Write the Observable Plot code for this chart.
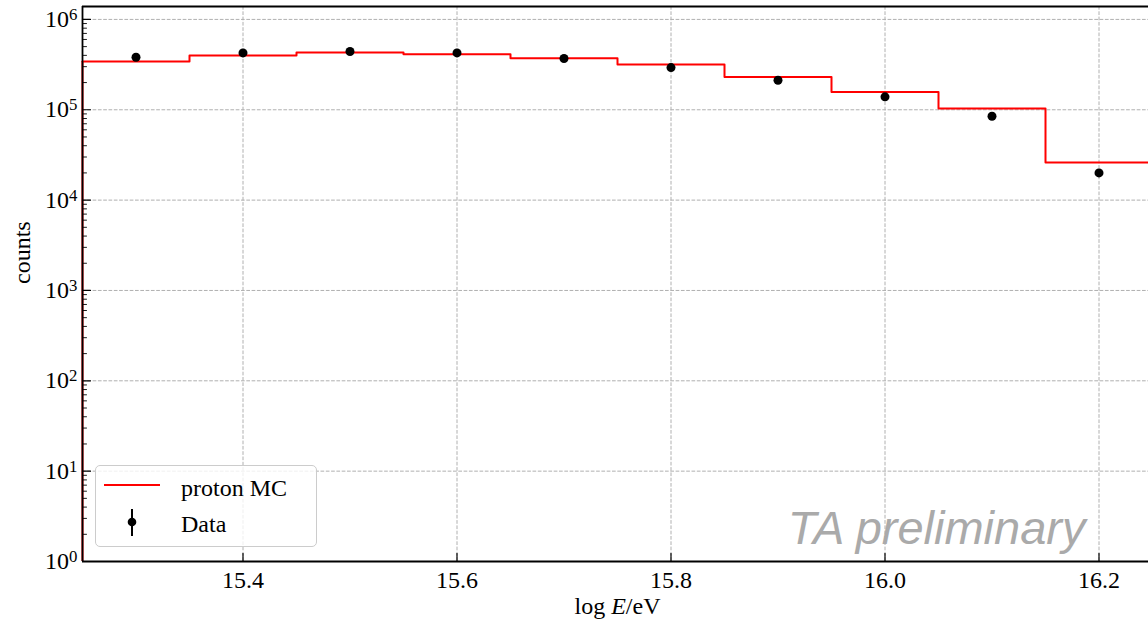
<!DOCTYPE html>
<html><head><meta charset="utf-8">
<script src="https://cdn.jsdelivr.net/npm/d3@7"></script>
<script src="https://cdn.jsdelivr.net/npm/@observablehq/plot@0.6"></script>
<style>
body{margin:0;background:#fff;overflow:hidden}
#wrap{position:relative;width:1148px;height:627px;overflow:hidden}
#wrap svg text{font-family:"Liberation Serif","DejaVu Serif",serif}
#wrap svg text.wm, #wrap svg .wm text{font-family:"Liberation Sans",Arial,sans-serif}
#legend{position:absolute;left:95px;top:465px;width:222px;height:82px;box-sizing:border-box;
 border:1px solid #cccccc;border-radius:5px;background:rgba(255,255,255,0.8)}
#legend svg{position:absolute;left:-1px;top:-1px}
</style></head><body><div id="wrap"></div>
<script>
// bins (log10 E / eV) and counts
const binCenters = [15.3, 15.4, 15.5, 15.6, 15.7, 15.8, 15.9, 16.0, 16.1, 16.2];
const mcCounts   = [342000, 398000, 430000, 412000, 372000, 316000, 231000, 157000, 103000, 26000];
const dataCounts = [381000, 426000, 441000, 426000, 369000, 293000, 212000, 139000, 84700, 20000];
const binWidth = 0.1;
const xTicks = [15.4, 15.6, 15.8, 16.0, 16.2];
const yTicks = [1, 10, 100, 1e3, 1e4, 1e5, 1e6];
const xDomain = [15.25, 16.25];
const yDomain = [1, 1.39e6];
const legendLabels = ["proton MC", "Data"];
const watermark = "TA preliminary";

const FONT = "'Liberation Serif', 'DejaVu Serif', serif";
const SANS = "'Liberation Sans', Arial, sans-serif";

// histogram step path from bin edges
const stepData = binCenters.map((c, i) => ({x: c - binWidth / 2, y: mcCounts[i]}));
stepData.push({x: binCenters[binCenters.length - 1] + binWidth / 2, y: mcCounts[mcCounts.length - 1]});
const points = binCenters.map((c, i) => ({x: c, y: dataCounts[i]}));

const minorY = [];
for (let n = 0; n < 6; n++) for (let k = 2; k <= 9; k++) minorY.push(k * Math.pow(10, n));

const tickShape = {draw(ctx, l) { ctx.moveTo(0, 0); ctx.lineTo(0, -l); }};
const grid = {stroke: "#b0b0b0", strokeOpacity: 1, strokeWidth: 1, strokeDasharray: "3.7,1.6"};

const plot = Plot.plot({
  width: 1148, height: 627,
  marginLeft: 82, marginRight: -4, marginTop: 6, marginBottom: 66,
  style: {fontFamily: FONT, fontSize: "24px", color: "black", background: "white", overflow: "visible"},
  x: {domain: xDomain},
  y: {type: "log", domain: yDomain},
  marks: [
    Plot.gridX(xTicks, grid),
    Plot.gridY(yTicks, grid),
    Plot.ruleX([stepData[0].x], {y1: yDomain[0], y2: mcCounts[0], stroke: "red", strokeWidth: 2}),
    Plot.line(stepData, {x: "x", y: "y", curve: "step-after", stroke: "red", strokeWidth: 2}),
    Plot.dot(points, {x: "x", y: "y", r: 4.5, fill: "black", stroke: "none"}),
    Plot.ruleY([yDomain[0]], {stroke: "black", strokeWidth: 1.8}),
    Plot.ruleY([yDomain[1]], {stroke: "black", strokeWidth: 1.8}),
    Plot.ruleX([xDomain[0]], {stroke: "black", strokeWidth: 1.8}),
    Plot.vector(yTicks, {y: d => d, frameAnchor: "left", rotate: 90, length: 8, anchor: "start", shape: tickShape, stroke: "black", strokeWidth: 1.2}),
    Plot.vector(minorY, {y: d => d, frameAnchor: "left", rotate: 90, length: 4, anchor: "start", shape: tickShape, stroke: "black", strokeWidth: 0.9}),
    Plot.vector(xTicks, {x: d => d, frameAnchor: "bottom", rotate: 0, length: 8, anchor: "start", shape: tickShape, stroke: "black", strokeWidth: 1.2}),
    Plot.axisX({ticks: xTicks, tickSize: 0, tickPadding: 9, tickFormat: d => d.toFixed(1), label: null, fontSize: 24, fontFamily: FONT, fontVariant: "normal"}),
    Plot.axisY({ticks: yTicks, tickSize: 0, tickPadding: 5, tickFormat: d => "10^" + Math.round(Math.log10(d)), label: null, fontSize: 24, fontFamily: FONT, fontVariant: "normal"}),
    Plot.text(["log E/eV"], {frameAnchor: "bottom", dy: 45, lineAnchor: "middle", fontSize: 24, fontFamily: FONT}),
    Plot.text(["counts"], {frameAnchor: "left", dx: -60, rotate: -90, lineAnchor: "middle", fontSize: 24, fontFamily: FONT}),
    Plot.text([watermark], {frameAnchor: "bottom-right", dx: -67, dy: -33, textAnchor: "end", lineAnchor: "middle",
      fontSize: 47, fontFamily: SANS, fontStyle: "italic", fill: "#aaaaaa", className: "wm"})
  ]
});

// superscript exponents on y tick labels
d3.select(plot).selectAll('[aria-label="y-axis tick label"] text').each(function() {
  const t = this.textContent;
  if (t.includes("^")) {
    const [b, e] = t.split("^");
    this.textContent = "";
    d3.select(this).append("tspan").text(b);
    d3.select(this).append("tspan").attr("dy", "-0.42em").attr("font-size", "0.7em").text(e);
  }
});
// italic E in x label
d3.select(plot).selectAll('text').each(function() {
  if (this.textContent === "log E/eV") {
    this.textContent = "";
    const s = d3.select(this);
    s.append("tspan").text("log ");
    s.append("tspan").attr("font-style", "italic").text("E");
    s.append("tspan").text("/eV");
  }
});

const wrap = document.getElementById("wrap");
wrap.appendChild(plot);

const legend = document.createElement("div");
legend.id = "legend";
legend.innerHTML = `<svg width="222" height="82" style="font-size:24px">
  <line x1="9" x2="65" y1="20" y2="20" stroke="red" stroke-width="2.2"/>
  <line x1="37" x2="37" y1="44" y2="71" stroke="black" stroke-width="2"/>
  <circle cx="37" cy="57" r="4.3" fill="black"/>
  <text x="86" y="31" style="font-family:'Liberation Serif','DejaVu Serif',serif">${legendLabels[0]}</text>
  <text x="86" y="67" style="font-family:'Liberation Serif','DejaVu Serif',serif">${legendLabels[1]}</text>
</svg>`;
wrap.appendChild(legend);
</script>
</body></html>
